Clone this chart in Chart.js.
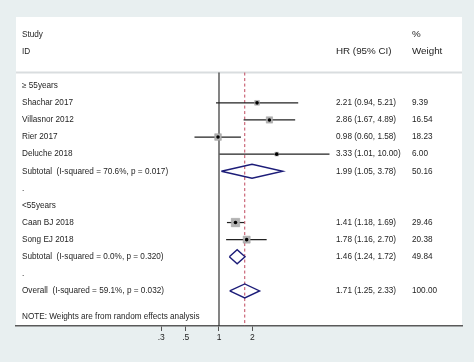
<!DOCTYPE html>
<html lang="en">
<head>
<meta charset="UTF-8" />
<title>Forest plot</title>
<script src="https://cdn.jsdelivr.net/npm/chart.js"></script>
<style>
  html, body { margin: 0; padding: 0; background: #e8eff0; }
  #box { width: 474px; height: 362px; position: relative; }
</style>
</head>
<body>
<div id="box"><canvas id="forest"></canvas></div>
<script>
// individual studies
const studyNames = ['Shachar 2017', 'Villasnor 2012', 'Rier 2017', 'Deluche 2018', 'Caan BJ 2018', 'Song EJ 2018'];
const studyHr = [2.21, 2.86, 0.98, 3.33, 1.41, 1.78];
const studyLo = [0.94, 1.67, 0.60, 1.01, 1.18, 1.16];
const studyHi = [5.21, 4.89, 1.58, 10.00, 1.69, 2.70];
const studyWeight = [9.39, 16.54, 18.23, 6.00, 29.46, 20.38];
const studyRows = [4, 5, 6, 7, 11, 12];

// pooled estimates (subtotals + overall)
const pooledNames = ['Subtotal  (I-squared = 70.6%, p = 0.017)', 'Subtotal  (I-squared = 0.0%, p = 0.320)', 'Overall  (I-squared = 59.1%, p = 0.032)'];
const pooledHr = [1.99, 1.46, 1.71];
const pooledLo = [1.05, 1.24, 1.25];
const pooledHi = [3.78, 1.72, 2.33];
const pooledWeight = [50.16, 49.84, 100.00];
const pooledRows = [8, 13, 15];

const groupNames = ['\u2265 55years', '<55years'];
const groupRows = [3, 10];
const dotRows = [9, 14];

const xTicks = [0.3, 0.5, 1, 2];
const xTickLabels = ['.3', '.5', '1', '2'];

const overallHr = pooledHr[2];
const sepRow = 2.23;
const yMin = -1.02, yMax = 17.05;
const diamondHalf = 0.41;

const fontTxt = '8.2px "Liberation Sans", Arial, sans-serif';
const fontHead = '9.8px "Liberation Sans", Arial, sans-serif';

// datasets
const datasets = [];

// line at 1 and dashed line at overall estimate
datasets.push({
    data: [{x: 1, y: sepRow}, {x: 1, y: yMax}],
    showLine: true, borderColor: '#333', borderWidth: 1.2, pointRadius: 0, order: 6
});
datasets.push({
    data: [{x: overallHr, y: sepRow}, {x: overallHr, y: yMax}],
    showLine: true, borderColor: '#c0485e', borderWidth: 1, borderDash: [3, 2.5], pointRadius: 0, order: 6
});

// confidence intervals
studyHr.forEach((v, i) => {
    datasets.push({
        data: [{x: studyLo[i], y: studyRows[i]}, {x: studyHi[i], y: studyRows[i]}],
        showLine: true, borderColor: '#222', borderWidth: 1.2, pointRadius: 0, order: 4
    });
});

// weight boxes
datasets.push({
    data: studyHr.map((v, i) => ({x: v, y: studyRows[i]})),
    pointStyle: 'rect',
    pointRadius: studyWeight.map(w => 1.55 * Math.sqrt(w) / Math.SQRT2),
    backgroundColor: '#b2b2b2', borderColor: '#9a9a9a', borderWidth: 0.5, order: 3
});

// point estimates
datasets.push({
    data: studyHr.map((v, i) => ({x: v, y: studyRows[i]})),
    pointStyle: 'circle', pointRadius: 1.8,
    backgroundColor: '#000', borderColor: '#000', borderWidth: 0, order: 2
});

// diamonds
pooledHr.forEach((v, i) => {
    const r = pooledRows[i];
    datasets.push({
        data: [
            {x: pooledLo[i], y: r}, {x: v, y: r - diamondHalf},
            {x: pooledHi[i], y: r}, {x: v, y: r + diamondHalf},
            {x: pooledLo[i], y: r}
        ],
        showLine: true, borderColor: '#1c1c78', borderWidth: 1.4, pointRadius: 0, order: 1
    });
});

const panelPlugin = {
    id: 'panel',
    beforeDraw(chart) {
        const {ctx, chartArea} = chart;
        ctx.save();
        ctx.fillStyle = '#ffffff';
        ctx.fillRect(chartArea.left, chartArea.top, chartArea.right - chartArea.left, chartArea.bottom - chartArea.top);
        ctx.restore();
    },
    beforeDatasetsDraw(chart) {
        const {ctx, chartArea, scales} = chart;
        const ys = scales.y.getPixelForValue(sepRow);
        ctx.save();
        ctx.strokeStyle = '#d9dddf';
        ctx.lineWidth = 2;
        ctx.beginPath();
        ctx.moveTo(chartArea.left, ys);
        ctx.lineTo(chartArea.right, ys);
        ctx.stroke();
        ctx.restore();
    },
    afterDatasetsDraw(chart) {
        const {ctx, chartArea, scales} = chart;
        const y = v => scales.y.getPixelForValue(v);
        const colStudy = chartArea.left + 6;
        const colHr = chartArea.left + 320;
        const colW = chartArea.left + 396;
        const fmt = v => v.toFixed(2);
        ctx.save();
        ctx.fillStyle = '#1e1e1e';
        ctx.textBaseline = 'middle';
        ctx.textAlign = 'left';

        ctx.font = fontTxt;
        ctx.fillText('Study', colStudy, y(0));
        ctx.fillText('ID', colStudy, y(1));
        ctx.font = fontHead;
        ctx.fillText('HR (95% CI)', colHr, y(1));
        ctx.fillText('%', colW, y(0));
        ctx.fillText('Weight', colW, y(1));

        ctx.font = fontTxt;
        groupNames.forEach((g, i) => ctx.fillText(g, colStudy, y(groupRows[i])));
        dotRows.forEach(r => ctx.fillText('.', colStudy, y(r)));

        studyNames.forEach((n, i) => {
            const yy = y(studyRows[i]);
            ctx.fillText(n, colStudy, yy);
            ctx.fillText(fmt(studyHr[i]) + ' (' + fmt(studyLo[i]) + ', ' + fmt(studyHi[i]) + ')', colHr, yy);
            ctx.fillText(fmt(studyWeight[i]), colW, yy);
        });
        pooledNames.forEach((n, i) => {
            const yy = y(pooledRows[i]);
            ctx.fillText(n, colStudy, yy);
            ctx.fillText(fmt(pooledHr[i]) + ' (' + fmt(pooledLo[i]) + ', ' + fmt(pooledHi[i]) + ')', colHr, yy);
            ctx.fillText(fmt(pooledWeight[i]), colW, yy);
        });
        ctx.fillText('NOTE: Weights are from random effects analysis', colStudy, y(16.5));
        ctx.restore();
    }
};

new Chart(document.getElementById('forest'), {
    type: 'scatter',
    data: { datasets: datasets },
    options: {
        responsive: true,
        maintainAspectRatio: false,
        animation: false,
        events: [],
        layout: { padding: { left: 16, right: 12, top: 17, bottom: 0 } },
        plugins: { legend: { display: false }, tooltip: { enabled: false } },
        scales: {
            x: {
                type: 'logarithmic',
                min: 0.01455,
                max: 158.2,
                afterBuildTicks: s => { s.ticks = xTicks.map(v => ({ value: v })); },
                afterFit: s => { s.height = 36; },
                ticks: {
                    autoSkip: false, maxRotation: 0, padding: 2,
                    color: '#1e1e1e',
                    font: { family: '"Liberation Sans", Arial, sans-serif', size: 8.5 },
                    callback: (v, i) => xTickLabels[i]
                },
                grid: { display: true, drawOnChartArea: false, drawTicks: true, tickLength: 5, color: '#555', lineWidth: 1 },
                border: { display: true, color: '#5a5a5a', width: 1.5 }
            },
            y: {
                type: 'linear',
                display: false,
                reverse: true,
                min: yMin,
                max: yMax
            }
        }
    },
    plugins: [panelPlugin]
});
</script>
</body>
</html>
